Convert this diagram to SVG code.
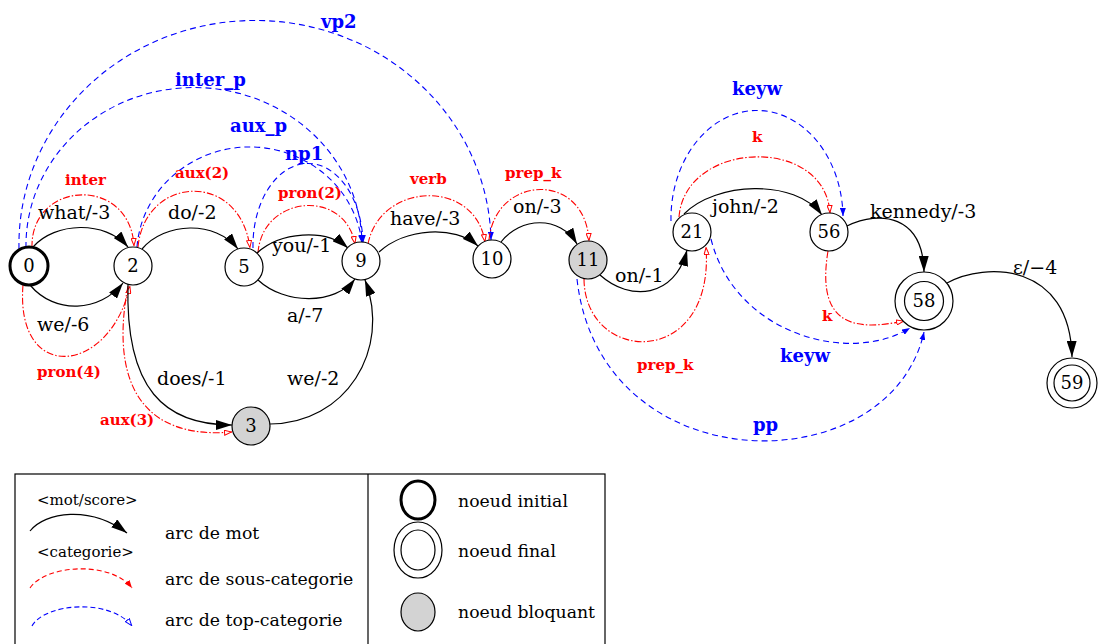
<svg xmlns="http://www.w3.org/2000/svg" width="1099" height="644" viewBox="0 0 1099 644">
<style>
.w{fill:none;stroke:#000;stroke-width:1.2;marker-end:url(#ab)}
.s{fill:none;stroke:#f00;stroke-width:1.1;stroke-dasharray:7 2 1.5 2;marker-end:url(#ar)}
.t{fill:none;stroke:#00f;stroke-width:1.1;stroke-dasharray:6 4;marker-end:url(#abl)}
.lw{font-family:"DejaVu Serif",serif;font-size:19px;fill:#000}
.ls{font-family:"DejaVu Serif",serif;font-size:15px;font-weight:bold;fill:#f00}
.lt{font-family:"DejaVu Serif",serif;font-size:18px;font-weight:bold;fill:#00f}
.nd{fill:#fff;stroke:#000;stroke-width:1.2}
.bl{fill:#d3d3d3;stroke:#000;stroke-width:1.2}
.nl{font-family:"DejaVu Serif",serif;font-size:18px;text-anchor:middle;fill:#000}
.lg{font-family:"DejaVu Serif",serif;font-size:17.3px;fill:#000}
.lh{font-family:"DejaVu Serif",serif;font-size:15px;fill:#000}
</style>
<defs>
<marker id="ab" viewBox="0 0 16 10" markerWidth="16" markerHeight="10" refX="16" refY="5" orient="auto" markerUnits="userSpaceOnUse"><path d="M0,0 L16,5 L0,10 z" fill="#000"/></marker>
<marker id="ar" viewBox="0 0 8 6" markerWidth="8" markerHeight="6" refX="8" refY="3" orient="auto" markerUnits="userSpaceOnUse"><path d="M0.5,0.5 L7.5,3 L0.5,5.5 z" fill="#fff" stroke="#f00" stroke-width="1"/></marker>
<marker id="arf" viewBox="0 0 8 6" markerWidth="8" markerHeight="6" refX="8" refY="3" orient="auto" markerUnits="userSpaceOnUse"><path d="M0,0 L8,3 L0,6 z" fill="#f00"/></marker>
<marker id="abl" viewBox="0 0 8 6" markerWidth="8" markerHeight="6" refX="8" refY="3" orient="auto" markerUnits="userSpaceOnUse"><path d="M0,0 L8,3 L0,6 z" fill="#00f"/></marker>
<marker id="ablo" viewBox="0 0 8 6" markerWidth="8" markerHeight="6" refX="8" refY="3" orient="auto" markerUnits="userSpaceOnUse"><path d="M0.5,0.5 L7.5,3 L0.5,5.5 z" fill="#fff" stroke="#00f" stroke-width="1"/></marker>
</defs>
<rect width="1099" height="644" fill="#fff"/>

<g id="connectors">
<!-- top-category (blue) -->
<path class="t" d="M19,249 A236,224 0 0 1 491,240"/>
<path class="t" d="M26,248 A168,158 0 0 1 362,243"/>
<path class="t" d="M137,247 A113,108 0 0 1 362,243"/>
<path class="t" d="M253,248 A55,82 0 0 1 363,243"/>
<path class="t" d="M671,221 A86,108 0 0 1 843,216"/>
<path class="t" d="M711,239 C735,335 850,365 910,328"/>
<path class="t" d="M577,279 C600,485 890,485 924,332"/>
<!-- sub-category (red) -->
<path class="s" d="M32,248 C30,180 130,175 134,246"/>
<path class="s" d="M23,285 C15,385 110,375 130,286"/>
<path class="s" d="M138,247 C145,175 240,170 250,248"/>
<path class="s" d="M258,253 C262,195 345,188 355,244"/>
<path class="s" d="M128,286 C110,380 140,440 232,432"/>
<path class="s" d="M368,244 C380,182 475,178 485,242"/>
<path class="s" d="M489,240 C495,175 585,170 589,241"/>
<path class="s" d="M584,279 C585,365 715,370 706,247"/>
<path class="s" d="M679,217 C685,140 825,135 830,213"/>
<path class="s" d="M828,251 C815,330 860,330 904,321"/>
<!-- word arcs (black) -->
<path class="w" d="M33,247 C55,222 105,220 128,247"/>
<path class="w" d="M30,285 C55,315 100,312 123,283"/>
<path class="w" d="M142,249 C165,222 215,220 238,249"/>
<path class="w" d="M257,253 C280,232 325,228 348,248"/>
<path class="w" d="M258,280 C285,305 335,305 355,279"/>
<path class="w" d="M128,284 C125,390 165,425 232,425"/>
<path class="w" d="M270,424 C345,424 392,350 365,280"/>
<path class="w" d="M379,252 C405,228 455,225 478,246"/>
<path class="w" d="M501,242 C520,217 560,215 577,244"/>
<path class="w" d="M600,275 C630,302 675,298 687,250"/>
<path class="w" d="M684,214 C715,182 795,178 822,215"/>
<path class="w" d="M847,226 C880,210 923,215 924,272"/>
<path class="w" d="M947,283 C985,262 1070,262 1072,357"/>
</g>

<g id="edge-labels">
<text class="lt" x="321" y="28">vp2</text>
<text class="lt" x="175" y="86">inter_p</text>
<text class="lt" x="230" y="132">aux_p</text>
<text class="lt" x="285" y="160">np1</text>
<text class="lt" x="732" y="95">keyw</text>
<text class="lt" x="780" y="362">keyw</text>
<text class="lt" x="753" y="431">pp</text>
<text class="ls" x="65" y="185">inter</text>
<text class="ls" x="37" y="377">pron(4)</text>
<text class="ls" x="175" y="178">aux(2)</text>
<text class="ls" x="278" y="198">pron(2)</text>
<text class="ls" x="100" y="425">aux(3)</text>
<text class="ls" x="410" y="184">verb</text>
<text class="ls" x="505" y="178">prep_k</text>
<text class="ls" x="637" y="370">prep_k</text>
<text class="ls" x="752" y="142">k</text>
<text class="ls" x="822" y="321">k</text>
<text class="lw" x="38" y="219">what/-3</text>
<text class="lw" x="37" y="331">we/-6</text>
<text class="lw" x="168" y="219">do/-2</text>
<text class="lw" x="272" y="252">you/-1</text>
<text class="lw" x="287" y="322">a/-7</text>
<text class="lw" x="157" y="385">does/-1</text>
<text class="lw" x="287" y="385">we/-2</text>
<text class="lw" x="390" y="225">have/-3</text>
<text class="lw" x="513" y="213">on/-3</text>
<text class="lw" x="615" y="282">on/-1</text>
<text class="lw" x="712" y="213">john/-2</text>
<text class="lw" x="870" y="218">kennedy/-3</text>
<text class="lw" x="1013" y="274">ε/−4</text>
</g>

<g id="n0"><circle cx="29" cy="266" r="19" fill="#fff" stroke="#000" stroke-width="3"/><text class="nl" x="29" y="272">0</text></g>
<g id="n2"><circle class="nd" cx="133" cy="266" r="19"/><text class="nl" x="133" y="272">2</text></g>
<g id="n5"><circle class="nd" cx="244" cy="267" r="19"/><text class="nl" x="244" y="273">5</text></g>
<g id="n9"><circle class="nd" cx="361" cy="261" r="19"/><text class="nl" x="361" y="267">9</text></g>
<g id="n3"><circle class="bl" cx="251" cy="426" r="19"/><text class="nl" x="251" y="432">3</text></g>
<g id="n10"><circle class="nd" cx="492" cy="259" r="19"/><text class="nl" x="492" y="265">10</text></g>
<g id="n11"><circle class="bl" cx="588" cy="260" r="19"/><text class="nl" x="588" y="266">11</text></g>
<g id="n21"><circle class="nd" cx="692" cy="232" r="19"/><text class="nl" x="692" y="238">21</text></g>
<g id="n56"><circle class="nd" cx="829" cy="232" r="19"/><text class="nl" x="829" y="238">56</text></g>
<g id="n58"><circle class="nd" cx="924" cy="301" r="29"/><circle class="nd" cx="924" cy="301" r="19.5"/><text class="nl" x="924" y="307">58</text></g>
<g id="n59"><circle class="nd" cx="1072" cy="383" r="25"/><circle class="nd" cx="1072" cy="383" r="18"/><text class="nl" x="1072" y="389">59</text></g>

<g id="legend">
<rect x="15" y="474" width="590" height="190" fill="none" stroke="#000" stroke-width="1.2"/>
<line x1="368" y1="474" x2="368" y2="644" stroke="#000" stroke-width="1.2"/>
<text class="lh" x="37" y="505">&lt;mot/score&gt;</text>
<path d="M30,531 C45,512 90,505 127,533" fill="none" stroke="#000" stroke-width="1.2" marker-end="url(#ab)"/>
<text class="lg" x="165" y="539">arc de mot</text>
<text class="lh" x="37" y="557">&lt;categorie&gt;</text>
<path d="M30,588 C45,565 110,560 132,588" fill="none" stroke="#f00" stroke-width="1.1" stroke-dasharray="5 3" marker-end="url(#arf)"/>
<text class="lg" x="165" y="585">arc de sous-categorie</text>
<path d="M32,626 C45,603 110,598 132,626" fill="none" stroke="#00f" stroke-width="1.1" stroke-dasharray="5 3" marker-end="url(#ablo)"/>
<text class="lg" x="165" y="626">arc de top-categorie</text>
<ellipse cx="418" cy="500" rx="17" ry="19" fill="#fff" stroke="#000" stroke-width="3"/>
<text class="lg" x="458" y="507">noeud initial</text>
<ellipse cx="418" cy="550" rx="24" ry="28" fill="#fff" stroke="#000" stroke-width="1.2"/>
<ellipse cx="418" cy="550" rx="17" ry="20" fill="#fff" stroke="#000" stroke-width="1.2"/>
<text class="lg" x="458" y="557">noeud final</text>
<ellipse cx="418" cy="612" rx="17" ry="19" fill="#d3d3d3" stroke="#000" stroke-width="1.2"/>
<text class="lg" x="458" y="618">noeud bloquant</text>
</g>
</svg>
